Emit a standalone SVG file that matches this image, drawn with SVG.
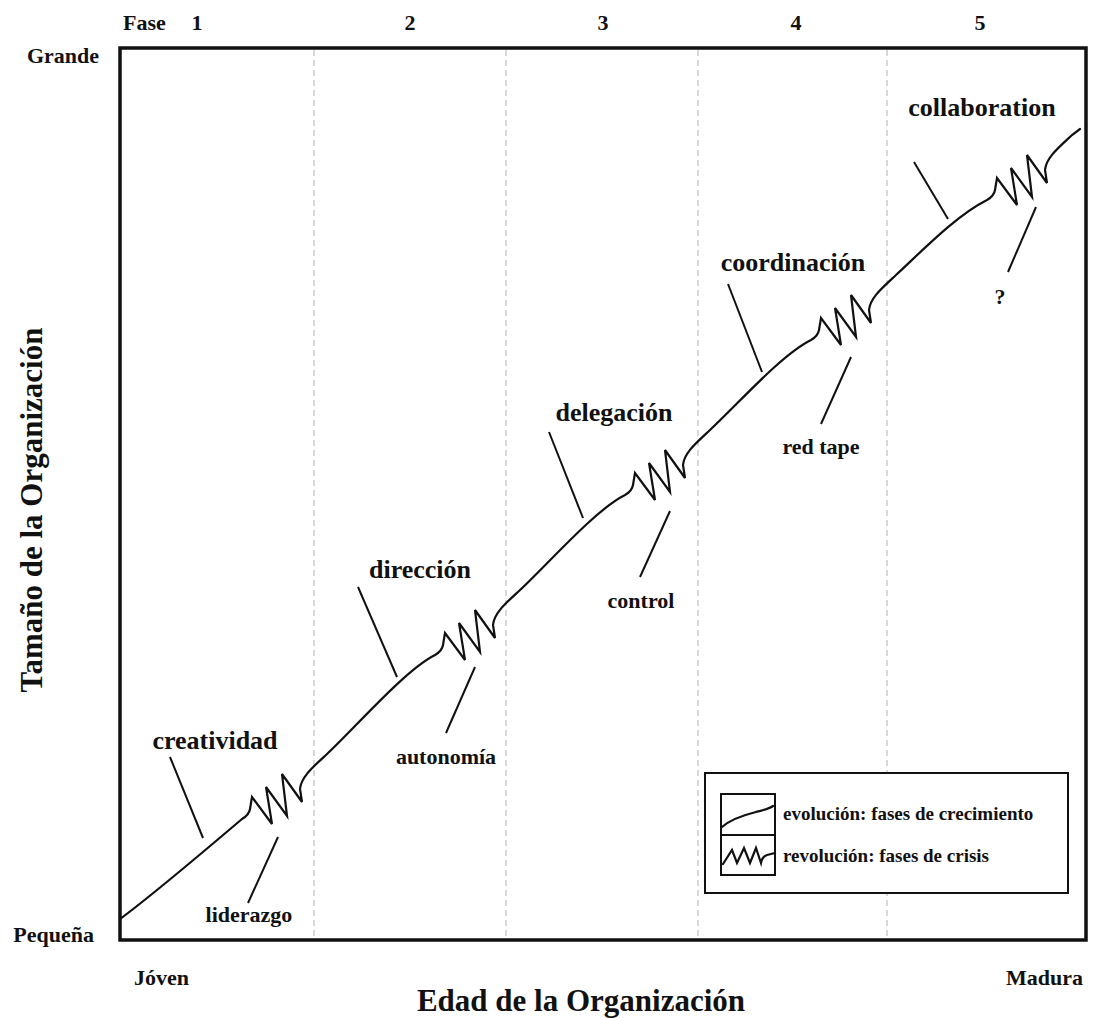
<svg xmlns="http://www.w3.org/2000/svg" width="1093" height="1018" viewBox="0 0 1093 1018">
  <style>
    text { font-family: "Liberation Serif", "Times New Roman", serif; font-weight: bold; fill: #111; }
    .axis { font-size: 22px; }
    .title { font-size: 31px; }
    .big { font-size: 26px; text-anchor: middle; }
    .small { font-size: 22px; text-anchor: middle; }
    .leg { font-size: 19px; }
    .divider { stroke: #cfcfcf; stroke-width: 1.6; stroke-dasharray: 6 4; fill: none; }
    .curve { stroke: #111; stroke-width: 2.2; fill: none; stroke-linejoin: miter; stroke-linecap: round; }
    .leader { stroke: #111; stroke-width: 2; fill: none; }
  </style>

  <rect x="0" y="0" width="1093" height="1018" fill="#fff"/>

  <!-- phase dividers -->
  <g id="dividers">
    <line class="divider" x1="314" y1="50" x2="314" y2="938"/>
    <line class="divider" x1="506" y1="50" x2="506" y2="938"/>
    <line class="divider" x1="698" y1="50" x2="698" y2="938"/>
    <line class="divider" x1="887" y1="50" x2="887" y2="938"/>
  </g>

  <!-- plot frame -->
  <rect id="frame" x="120" y="48" width="966" height="892" fill="none" stroke="#111" stroke-width="3.5"/>

  <!-- axis and phase labels -->
  <g id="axis-labels">
    <text class="axis" x="123" y="30">Fase</text>
    <text class="axis" x="197" y="30" text-anchor="middle">1</text>
    <text class="axis" x="410" y="30" text-anchor="middle">2</text>
    <text class="axis" x="603" y="30" text-anchor="middle">3</text>
    <text class="axis" x="796" y="30" text-anchor="middle">4</text>
    <text class="axis" x="980" y="30" text-anchor="middle">5</text>
    <text class="axis" x="99" y="63" text-anchor="end">Grande</text>
    <text class="axis" x="94" y="942" text-anchor="end">Pequeña</text>
    <text class="axis" x="134" y="985">Jóven</text>
    <text class="axis" x="1083" y="985" text-anchor="end">Madura</text>
    <text class="title" x="581" y="1011" text-anchor="middle">Edad de la Organización</text>
    <text class="title" transform="translate(42,510) rotate(-90)" text-anchor="middle">Tamaño de la Organización</text>
  </g>

  <!-- growth curve: evolution stretches joined by revolution zigzags -->
  <g id="connectors">
    <path class="curve" d="M120,919 C150,897 222,836 242,819 Q249,815 250,809 L252,797
      L272,824 L266,787 L287,816 L282,774 L302,802 L300,789 C301,777 313,767 327,754
      C355,728 405,670 435,655 Q442,651 443,645 L445,633
      L465,660 L459,623 L480,652 L475,610 L495,638 L493,625 C494,613 506,603 520,590
      C548,564 595,510 625,495 Q632,491 633,485 L635,473
      L655,500 L649,463 L670,492 L665,450 L685,478 L683,465 C684,453 696,443 710,430
      C738,404 781,355 811,340 Q818,336 819,330 L821,318
      L841,345 L835,308 L856,337 L851,295 L871,323 L869,310 C870,298 882,288 896,275
      C924,249 957,215 987,200 Q994,196 995,190 L997,178
      L1017,205 L1011,168 L1032,197 L1027,155 L1047,183 L1045,170 C1046,158 1058,148 1072,135 L1080,129"/>

    <!-- label leaders -->
    <line class="leader" x1="170" y1="757" x2="203" y2="838"/>
    <line class="leader" x1="278" y1="837" x2="248" y2="903"/>
    <line class="leader" x1="358" y1="587" x2="397" y2="677"/>
    <line class="leader" x1="475" y1="667" x2="446" y2="733"/>
    <line class="leader" x1="549" y1="432" x2="583" y2="518"/>
    <line class="leader" x1="670" y1="511" x2="640" y2="577"/>
    <line class="leader" x1="728" y1="284" x2="762" y2="372"/>
    <line class="leader" x1="851" y1="357" x2="821" y2="424"/>
    <line class="leader" x1="914" y1="162" x2="948" y2="219"/>
    <line class="leader" x1="1036" y1="207" x2="1008" y2="272"/>
  </g>

  <!-- evolution labels -->
  <g id="label-creatividad"><text class="big" x="215" y="749">creatividad</text></g>
  <g id="label-direccion"><text class="big" x="420" y="578">dirección</text></g>
  <g id="label-delegacion"><text class="big" x="614" y="421">delegación</text></g>
  <g id="label-coordinacion"><text class="big" x="793" y="271">coordinación</text></g>
  <g id="label-collaboration"><text class="big" x="982" y="116">collaboration</text></g>

  <!-- revolution labels -->
  <g id="label-liderazgo"><text class="small" x="249" y="922">liderazgo</text></g>
  <g id="label-autonomia"><text class="small" x="446" y="764">autonomía</text></g>
  <g id="label-control"><text class="small" x="641" y="608">control</text></g>
  <g id="label-redtape"><text class="small" x="821" y="454">red tape</text></g>
  <g id="label-unknown"><text class="small" x="1000" y="304">?</text></g>

  <!-- legend -->
  <g id="legend">
    <rect x="705" y="773" width="363" height="120" fill="#fff" stroke="#111" stroke-width="2"/>
    <rect x="721" y="794" width="54" height="81" fill="none" stroke="#111" stroke-width="2"/>
    <line x1="721" y1="835" x2="775" y2="835" stroke="#111" stroke-width="2"/>
    <path class="curve" d="M722,827 C731,819 744,815 756,812 C764,810 769,809 773,806"/>
    <path class="curve" d="M723,864 L732,850 L737,863 L744,848 L750,863 L756,848 L761,863 C762,858 764,856 767,855 L775,853"/>
    <text class="leg" x="783" y="820">evolución: fases de crecimiento</text>
    <text class="leg" x="783" y="862">revolución: fases de crisis</text>
  </g>
</svg>
